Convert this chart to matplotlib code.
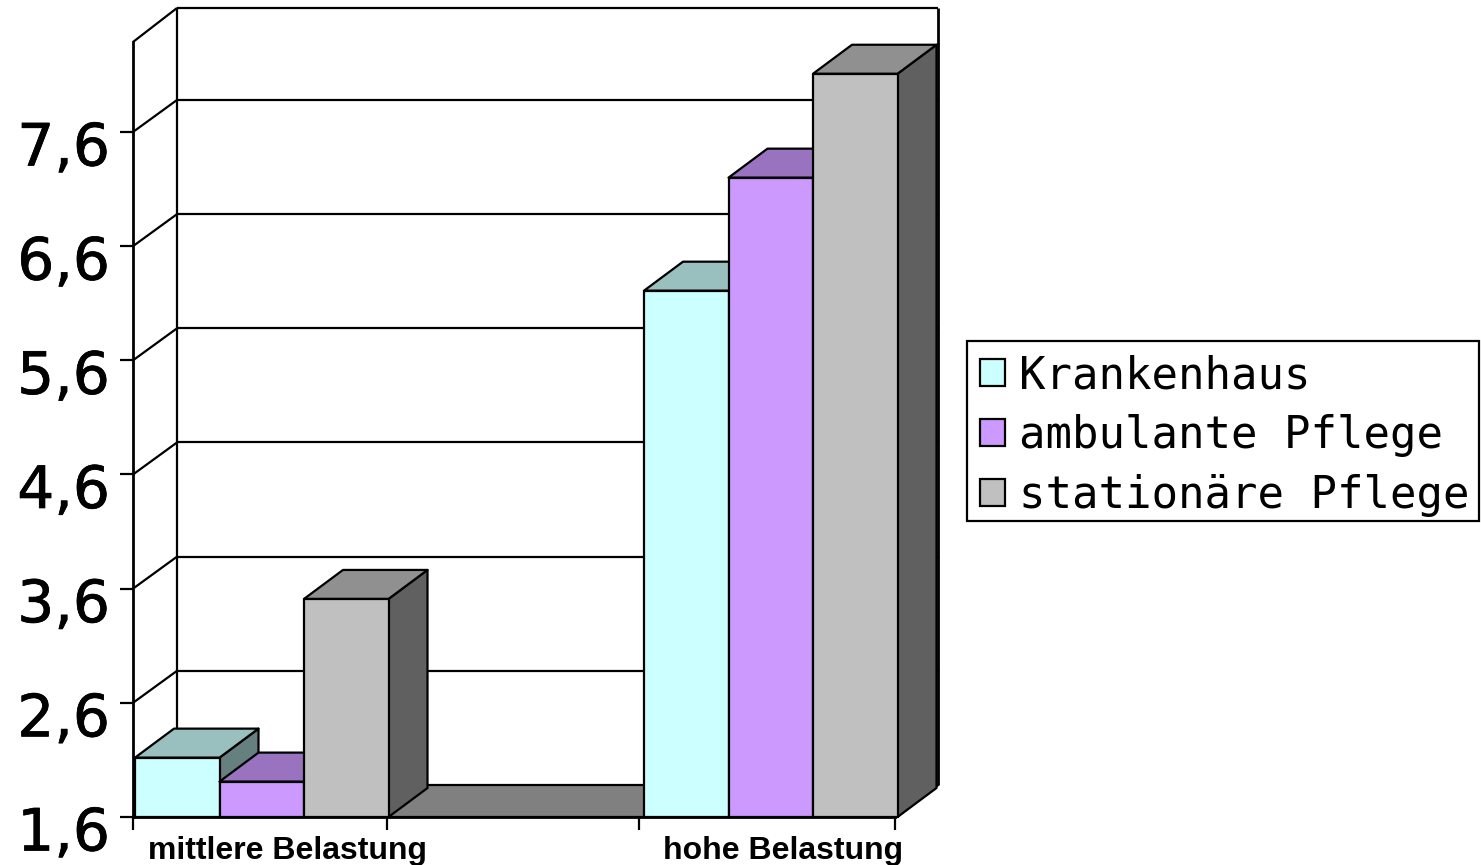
import matplotlib
matplotlib.use('Agg')
import matplotlib.pyplot as plt
import matplotlib.patheffects as pe
from matplotlib.patches import Polygon, Patch, Rectangle
from matplotlib.transforms import ScaledTranslation

categories = ['mittlere Belastung', 'hohe Belastung']
series_names = ['Krankenhaus', 'ambulante Pflege', 'stationäre Pflege']
krankenhaus = [2.12, 6.21]
ambulant = [1.91, 7.20]
stationaer = [3.51, 8.11]
y_ticks = [1.6, 2.6, 3.6, 4.6, 5.6, 6.6, 7.6]
y_tick_labels = ['1,6', '2,6', '3,6', '4,6', '5,6', '6,6', '7,6']

# colours per series: front, top, side
colors = [('#CCFFFF', '#99BFBF', '#668080'),
          ('#CC99FF', '#9973BF', '#664C80'),
          ('#C0C0C0', '#909090', '#606060')]
floor_color = '#808080'

# one pixel in data units
PX_X = 3 / 762
PX_Y = 1 / 114.17
Y_BASE = 1.6
Y_TOP = Y_BASE + 775 * PX_Y
WALL_DX = 44 * PX_X
WALL_DY = 32 * PX_Y
WALL_TOP = Y_TOP + 34 * PX_Y
BAR_DX = 39 * PX_X
BAR_DY = 29 * PX_Y
BAR_W = 84.5 * PX_X
GROUP_START = [2 * PX_X, 511 * PX_X]
LW = 1.6


def poly(ax, pts, color, z):
    ax.add_patch(Polygon(pts, closed=True, facecolor=color, edgecolor='black',
                         linewidth=LW, zorder=z, clip_on=False, joinstyle='round'))


def line(ax, xs, ys, lw=LW):
    ax.plot(xs, ys, color='black', lw=lw, zorder=1, clip_on=False, solid_capstyle='butt')


def draw_bar(ax, x, value, cols, z):
    x2 = x + BAR_W
    # side, top, front so that the next bar covers this one
    poly(ax, [(x2, Y_BASE), (x2 + BAR_DX, Y_BASE + BAR_DY),
              (x2 + BAR_DX, value + BAR_DY), (x2, value)], cols[2], z)
    poly(ax, [(x, value), (x + BAR_DX, value + BAR_DY),
              (x2 + BAR_DX, value + BAR_DY), (x2, value)], cols[1], z)
    poly(ax, [(x, Y_BASE), (x, value), (x2, value), (x2, Y_BASE)], cols[0], z)


fig = plt.figure(figsize=(14.81, 8.65), dpi=100)
ax = fig.add_axes([133 / 1481, (865 - 817) / 865, 762 / 1481, 775 / 865])
ax.set_xlim(0, 3)
ax.set_ylim(Y_BASE, Y_TOP)

for side in ['top', 'right']:
    ax.spines[side].set_visible(False)
for side in ['left', 'bottom']:
    ax.spines[side].set_linewidth(2.0)

# back wall, side wall and grid
x_back = WALL_DX
x_right = 3 + 43 * PX_X
line(ax, [x_back, x_back], [Y_BASE + WALL_DY, WALL_TOP])
line(ax, [x_back, x_right], [WALL_TOP, WALL_TOP])
line(ax, [x_right, x_right], [Y_BASE + WALL_DY, WALL_TOP], lw=2.0)
line(ax, [0, x_back], [Y_TOP, WALL_TOP])
line(ax, [3 + 2 * PX_X, x_right], [Y_BASE, Y_BASE + WALL_DY])
for t in y_ticks[1:]:
    line(ax, [0, x_back], [t, t + WALL_DY])
    line(ax, [x_back, x_right], [t + WALL_DY, t + WALL_DY])

# floor
poly(ax, [(0, Y_BASE), (x_back, Y_BASE + WALL_DY),
          (x_right, Y_BASE + WALL_DY), (3 + 2 * PX_X, Y_BASE)], floor_color, 1.2)

all_series = [krankenhaus, ambulant, stationaer]
z = 1.5
for g, start in enumerate(GROUP_START):
    for s, values in enumerate(all_series):
        draw_bar(ax, start + s * BAR_W, values[g], colors[s], z)
        z += 0.01

ax.set_yticks(y_ticks)
ax.set_yticklabels(y_tick_labels, fontsize=42, family='DejaVu Sans')
ax.tick_params(axis='y', length=9.5, width=1.6, pad=7)
offset = ScaledTranslation(0, -11 / 100, fig.dpi_scale_trans)
for lab in ax.get_yticklabels():
    lab.set_transform(lab.get_transform() + offset)
    lab.set_path_effects([pe.withStroke(linewidth=0.5, foreground='black')])

ax.set_xticks([0, 1, 1.992, 3])
ax.set_xticklabels([])
ax.set_xticks([0.61, 2.559], minor=True)
ax.set_xticklabels(categories, minor=True, fontsize=23, fontweight='bold',
                   family='Liberation Sans')
ax.tick_params(axis='x', which='major', length=9.5, width=1.6)
ax.tick_params(axis='x', which='minor', length=0, pad=14)

# legend frame drawn by hand so the box keeps its size
fig.add_artist(Rectangle((967 / 1481, 1 - 521 / 865), 512 / 1481, 180 / 865,
                         transform=fig.transFigure, facecolor='white',
                         edgecolor='black', linewidth=1.6, zorder=3))
handles = [Patch(facecolor=c[0], edgecolor='black', linewidth=1.6) for c in colors]
leg = fig.legend(handles, series_names, loc='upper left',
                 bbox_to_anchor=(967 / 1481, 1 - 341 / 865), borderaxespad=0,
                 prop={'family': 'DejaVu Sans Mono', 'size': 31.7},
                 handlelength=0.57, handleheight=0.57, handletextpad=0.3,
                 borderpad=0.3, labelspacing=0.386, frameon=False)
leg.set_zorder(4)

fig.savefig('out.png', dpi=100)
